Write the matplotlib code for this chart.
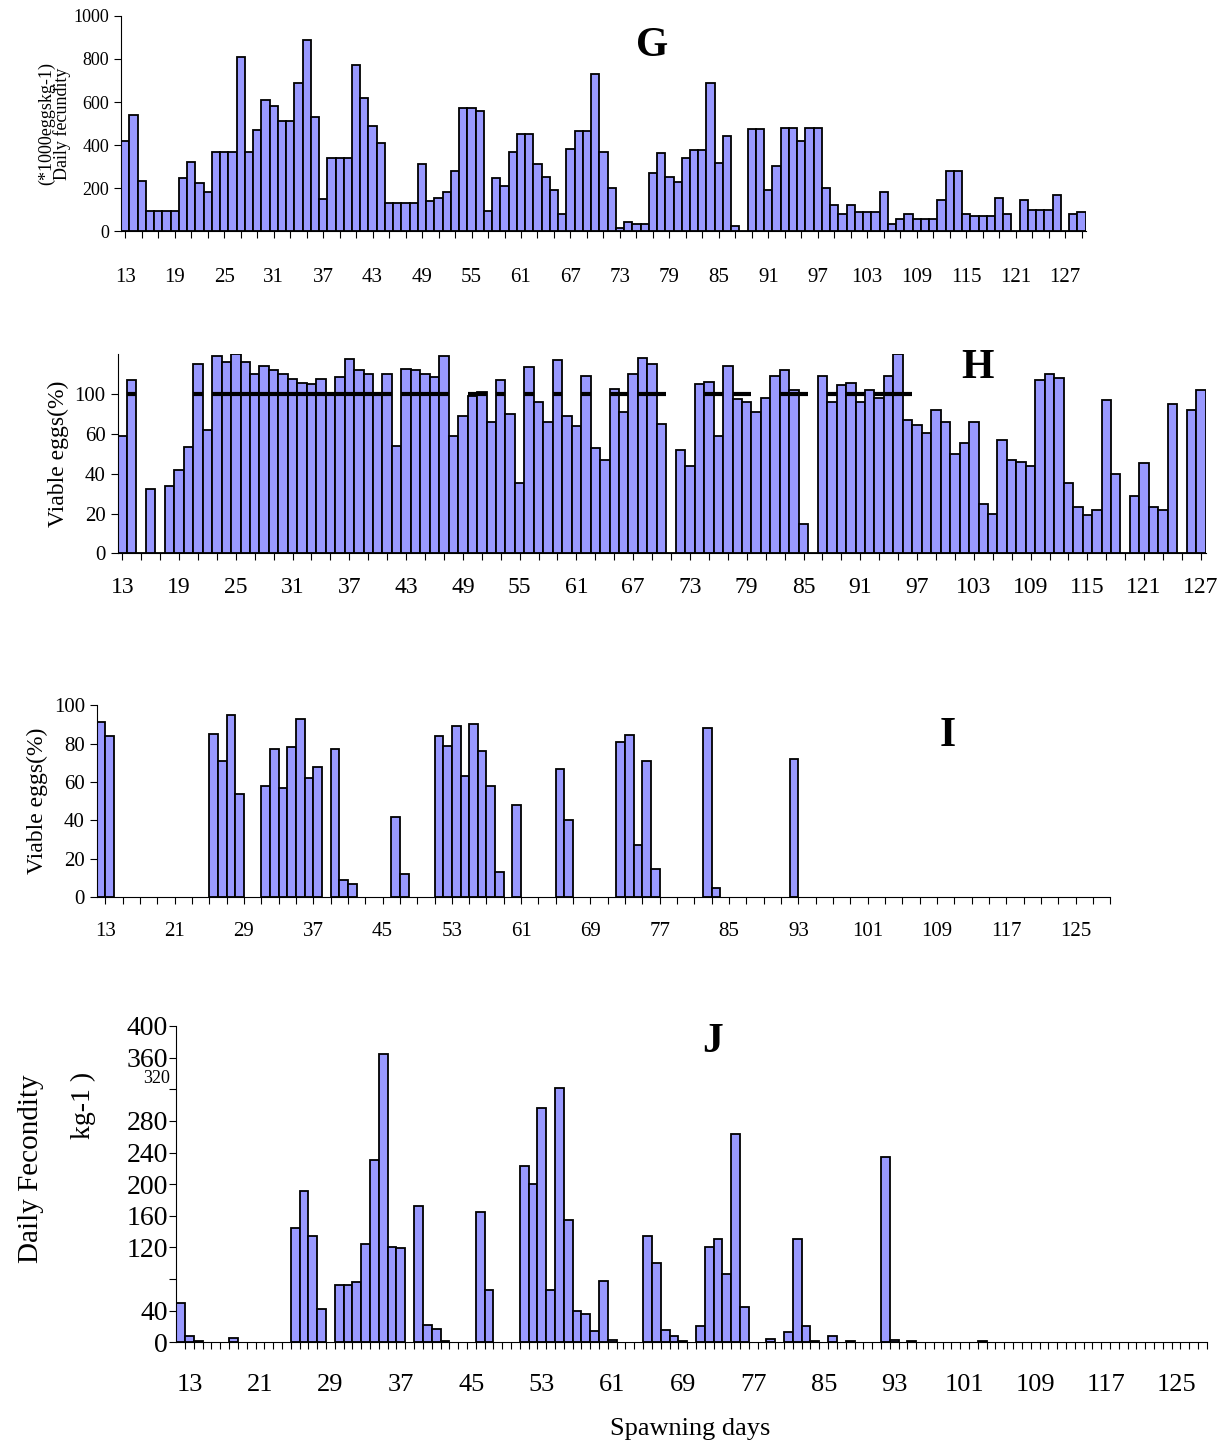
import matplotlib.pyplot as plt
import numpy as np

plt.rcParams['font.family'] = ['Liberation Serif', 'DejaVu Serif']

BAR = '#9999ff'

# panel G: daily fecundity (*1000 eggs kg-1), days 13..129
g_vals = [420, 540, 235, 95, 95, 95, 95, 245, 320, 225, 180, 370, 370, 370, 810, 370,
          470, 610, 580, 510, 510, 690, 890, 530, 150, 340, 340, 340, 770, 620, 490, 410,
          130, 130, 130, 130, 310, 140, 155, 180, 280, 570, 570, 560, 95, 245, 210, 370,
          450, 450, 310, 250, 190, 80, 380, 465, 465, 730, 370, 200, 15, 45, 35, 35,
          270, 365, 250, 230, 340, 375, 375, 690, 315, 440, 25, 0, 475, 475, 190, 305,
          480, 480, 420, 480, 480, 200, 120, 80, 120, 90, 90, 90, 180, 35, 55, 80,
          55, 55, 55, 145, 280, 280, 80, 70, 70, 70, 155, 80, 0, 145, 100, 100,
          100, 170, 0, 80, 90]

# panel H: viable eggs (axis units, the "100" label sits at 80)
h_vals = [59, 87, 0, 32.5, 0, 34, 41.7, 53.5, 95, 62, 99, 96, 100, 96, 90, 94, 92, 90,
          87.5, 85.5, 85, 87.5, 80, 88.5, 97.5, 92, 90, 80.5, 90, 54, 92.5, 92, 90, 88.5,
          99, 59, 69, 79, 81, 66, 87, 70, 35.5, 93.5, 76, 66, 97, 69, 64, 89, 53, 47, 82.5,
          71, 90, 98, 95, 65, 0, 52, 44, 85, 86, 59, 94, 77.5, 76, 71, 78, 89, 92, 82, 14.7,
          0, 89, 76, 84.7, 85.5, 76, 82, 78, 89, 100, 67, 64.5, 60.5, 72, 66, 50, 55.5, 66,
          25, 20, 57, 47, 46, 44, 87, 90, 88, 35.5, 23.5, 19.3, 22, 77, 40, 0, 29, 45.5,
          23.5, 22, 75, 0, 72, 82]
h_lines = [(1, 1), (8, 8), (10, 28), (30, 34), (37, 38), (40, 40), (43, 43), (46, 46),
           (49, 49), (52, 53), (55, 57), (62, 63), (65, 66), (70, 72), (75, 75), (77, 78),
           (80, 83)]

# panel I: viable eggs (%), bar index -> value
i_idx = [0, 1, 13, 14, 15, 16, 19, 20, 21, 22, 23, 24, 25, 27, 28, 29, 34, 35, 39, 40,
         41, 42, 43, 44, 45, 46, 48, 53, 54, 60, 61, 62, 63, 64, 70, 71, 80]
i_vals = [91, 84, 85, 71, 95, 54, 58, 77, 57, 78, 93, 62, 68, 77, 9, 7, 42, 12, 84, 79,
          89, 63, 90, 76, 58, 13, 48, 67, 40.5, 81, 84.5, 27, 71, 15, 88, 5, 72]

# panel J: daily fecundity
j_idx = [0, 1, 2, 6, 13, 14, 15, 16, 18, 19, 20, 21, 22, 23, 24, 25, 27, 28, 29, 30,
         34, 35, 39, 40, 41, 42, 43, 44, 45, 46, 47, 48, 49, 53, 54, 55, 56, 57, 59, 60,
         61, 62, 63, 64, 67, 69, 70, 71, 72, 74, 76, 80, 81, 83, 91]
j_vals = [50, 8, 2, 6, 145, 192, 135, 42, 72, 72, 76, 124, 231, 364, 120, 119, 173, 22,
          17, 2, 165, 66, 223, 200, 296, 66, 322, 155, 40, 36, 15, 78, 3, 134, 100, 16, 8,
          2, 21, 120, 131, 86, 264, 45, 4, 13.5, 131, 21, 2, 8, 2, 234, 3, 2, 2]
n_ij = 117

fig = plt.figure(figsize=(12.24, 14.45), dpi=100)


def style(ax):
    for s in ['top', 'right']:
        ax.spines[s].set_visible(False)
    ax.tick_params(direction='out', length=5)


# G
ax = fig.add_axes([0.099, 0.840, 0.788, 0.149])
x = np.arange(len(g_vals))
ax.bar(x, g_vals, width=1.0, color=BAR, edgecolor='black', linewidth=1.3)
ax.set_xlim(-0.5, len(g_vals) - 0.5)
ax.set_ylim(0, 1000)
ax.set_yticks(range(0, 1001, 200))
ax.tick_params(axis='y', labelsize=13)
ax.set_xticks(x[::2], minor=False)
ax.set_xticklabels([''] * len(x[::2]))
for i in range(0, len(g_vals), 6):
    if 13 + i <= 127:
        ax.text(i, -170, str(13 + i), ha='center', va='top', fontsize=15)
ax.set_ylabel('(*1000eggskg-1)\nDaily fecundity', fontsize=13, linespacing=0.8, labelpad=2)
style(ax)
ax.text(0.55, 0.86, 'G', transform=ax.transAxes, fontsize=30, fontweight='bold', ha='center', va='center')

# H
ax = fig.add_axes([0.096, 0.617, 0.889, 0.138])
x = np.arange(len(h_vals))
ax.bar(x, h_vals, width=1.0, color=BAR, edgecolor='black', linewidth=1.3)
for a, b in h_lines:
    ax.hlines(80, a - 0.5, b + 0.5, color='black', linewidth=3)
ax.set_xlim(-0.5, len(h_vals) - 0.5)
ax.set_ylim(0, 100)
ax.set_yticks([0, 20, 40, 60, 80])
ax.set_yticklabels(['0', '20', '40', '60', '100'])
ax.tick_params(axis='y', labelsize=15)
ax.set_xticks(x[::2])
ax.set_xticklabels([''] * len(x[::2]))
for i in range(0, len(h_vals), 6):
    ax.text(i, -12, str(13 + i), ha='center', va='top', fontsize=17)
ax.set_ylabel('Viable eggs(%)', fontsize=17)
style(ax)
ax.text(0.79, 0.93, 'H', transform=ax.transAxes, fontsize=30, fontweight='bold', ha='center', va='center')

# I
ax = fig.add_axes([0.079, 0.379, 0.828, 0.133])
ax.bar(i_idx, i_vals, width=1.0, color=BAR, edgecolor='black', linewidth=1.3)
ax.set_xlim(-0.5, n_ij - 0.5)
ax.set_ylim(0, 100)
ax.set_yticks(range(0, 101, 20))
ax.tick_params(axis='y', labelsize=15)
ticks = np.arange(0.5, n_ij, 2)
ax.set_xticks(ticks)
ax.set_xticklabels([''] * len(ticks))
for d in range(13, 126, 8):
    ax.text(d - 12.5, -13, str(d), ha='center', va='top', fontsize=15)
ax.set_ylabel('Viable eggs(%)', fontsize=17)
style(ax)
ax.text(0.84, 0.84, 'I', transform=ax.transAxes, fontsize=30, fontweight='bold', ha='center', va='center')

# J
ax = fig.add_axes([0.144, 0.071, 0.842, 0.219])
ax.bar(j_idx, j_vals, width=1.0, color=BAR, edgecolor='black', linewidth=1.3)
ax.set_xlim(-0.5, n_ij - 0.5)
ax.set_ylim(0, 400)
ax.set_yticks(range(0, 401, 40))
ax.set_yticklabels(['0', '40', '', '120', '160', '200', '240', '280', '', '360', '400'])
ax.tick_params(axis='y', labelsize=20, pad=1)
ax.text(-1.2, 333, '320', ha='right', va='center', fontsize=13)
ticks = np.arange(0.5, n_ij, 1)
ax.set_xticks(ticks)
ax.set_xticklabels([''] * len(ticks))
ax.tick_params(axis='x', length=6)
for d in range(13, 126, 8):
    ax.text(d - 12, -40, str(d), ha='center', va='top', fontsize=19)
fig.text(0.564, 0.011, 'Spawning days', ha='center', va='center', fontsize=19)
fig.text(0.025, 0.071 + 0.219 * 0.55, 'Daily Fecondity', rotation=90, ha='center', va='center', fontsize=21)
fig.text(0.068, 0.071 + 0.219 * 0.75, 'kg-1 )', rotation=90, ha='center', va='center', fontsize=20)
style(ax)
ax.text(0.52, 0.95, 'J', transform=ax.transAxes, fontsize=30, fontweight='bold', ha='center', va='center')

fig.savefig('out.png', dpi=100)
